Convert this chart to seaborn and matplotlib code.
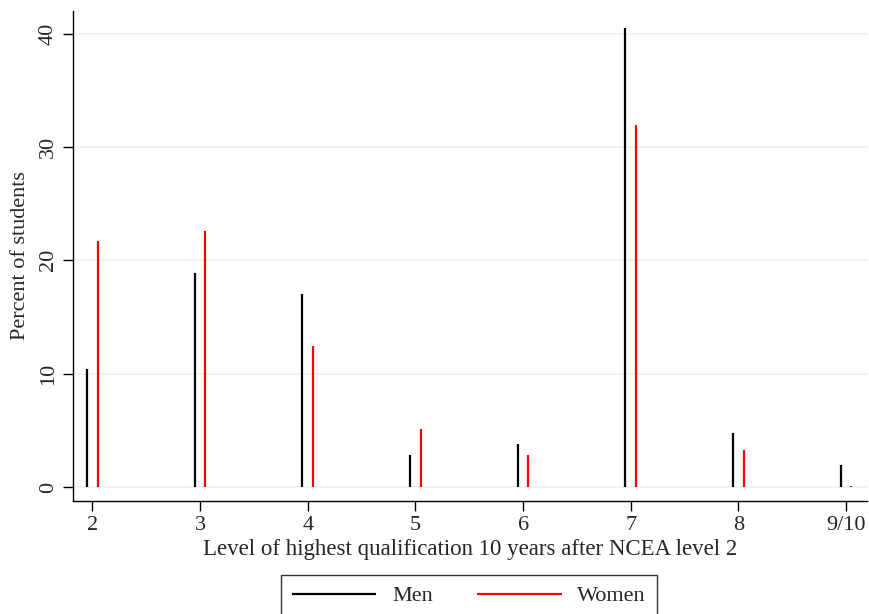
"""Spike plot: highest qualification level 10 years after NCEA level 2, by sex."""

import matplotlib
matplotlib.use("Agg")
import matplotlib.pyplot as plt
import numpy as np
import pandas as pd
import seaborn as sns

levels = [2, 3, 4, 5, 6, 7, 8, 9]
level_labels = ["2", "3", "4", "5", "6", "7", "8", "9/10"]
men = [10.4, 18.9, 17.0, 2.8, 3.8, 40.5, 4.8, 1.9]
women = [21.7, 22.6, 12.45, 5.1, 2.8, 31.9, 3.3, 0.1]

sns.set_theme(style="white")
plt.rcParams["font.family"] = ["Liberation Serif", "DejaVu Serif"]
plt.rcParams["font.size"] = 16

df = pd.DataFrame({
    "level": levels * 2,
    "pct": men + women,
    "sex": ["Men"] * len(levels) + ["Women"] * len(levels),
})
colors = {"Men": "black", "Women": "#ff0000"}
shift = {"Men": -0.05, "Women": 0.05}

fig = plt.figure(figsize=(8.7, 6.14), dpi=100)
ax = fig.add_axes([0.084, 0.184, 0.912, 0.798])

for y in [0, 10, 20, 30, 40]:
    ax.axhline(y, color="#eaf2f3", lw=1.3, zorder=0)

for sex, grp in df.groupby("sex"):
    ax.vlines(grp["level"] + shift[sex], 0, grp["pct"], color=colors[sex],
              lw=1.6, label=sex, zorder=2)

ax.set_xlim(1.82, 9.19)
ax.set_ylim(-1.24, 42.0)
ax.set_xticks(levels)
ax.set_xticklabels(level_labels)
ax.set_yticks([0, 10, 20, 30, 40])
ax.set_yticklabels(["0", "10", "20", "30", "40"], rotation=90, va="center")
ax.tick_params(axis="both", direction="out", length=7, width=1, color="black",
               labelsize=16, pad=4, bottom=True, left=True)
ax.set_xlabel("Level of highest qualification 10 years after NCEA level 2",
              fontsize=16.5, labelpad=3)
ax.set_ylabel("Percent of students", fontsize=16, labelpad=6)

sns.despine(ax=ax)
for side in ["left", "bottom"]:
    ax.spines[side].set_color("black")
    ax.spines[side].set_linewidth(1)

fig.legend(loc="upper center", bbox_to_anchor=(0.539, 0.064), ncol=2,
           frameon=True, fancybox=False, edgecolor="black", handlelength=3.8,
           handletextpad=0.7, columnspacing=2.0, borderpad=0.5,
           borderaxespad=0, fontsize=16)

fig.savefig("out.png", dpi=100)
